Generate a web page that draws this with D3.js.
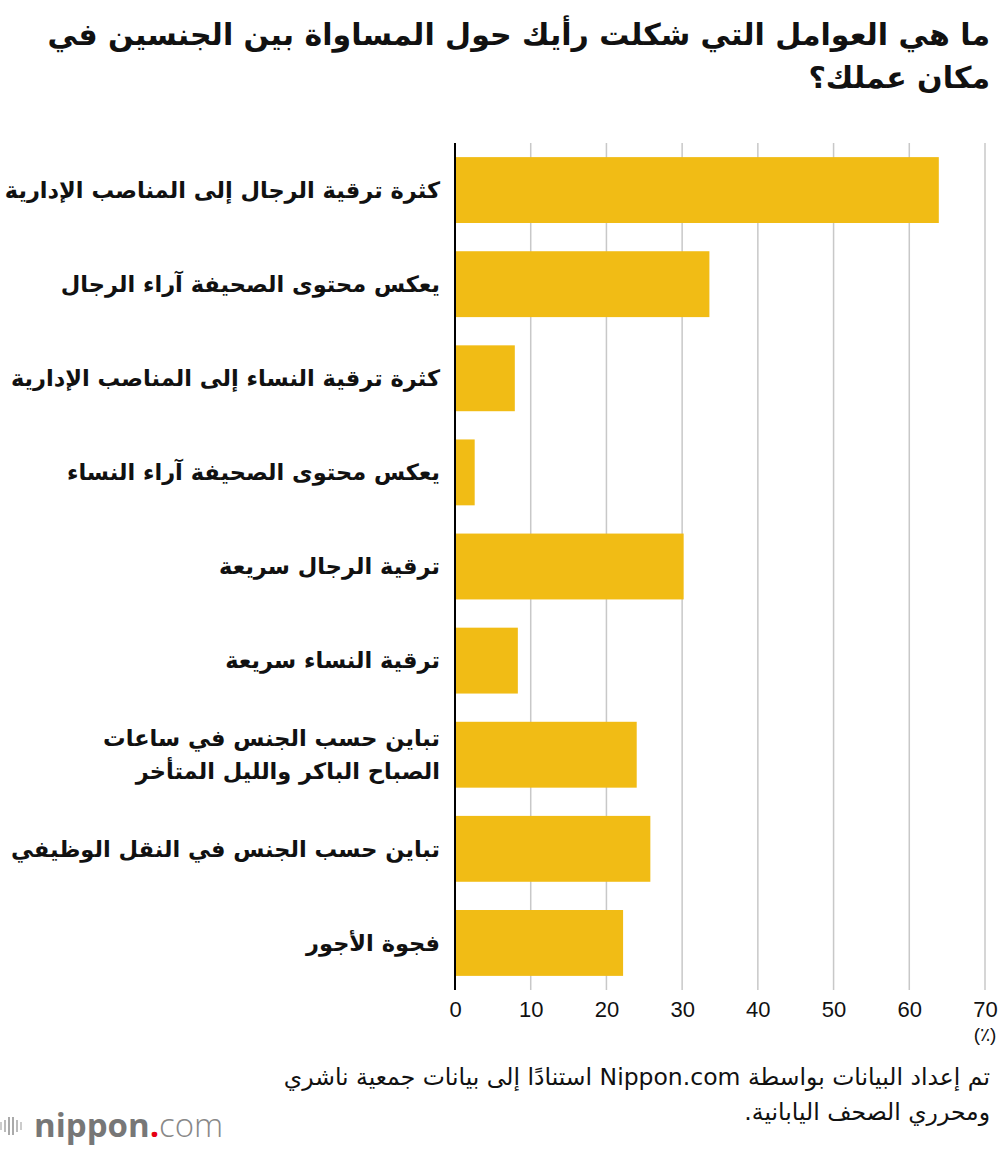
<!DOCTYPE html>
<html><head><meta charset="utf-8">
<script src="https://cdn.jsdelivr.net/npm/d3@7"></script>
<style>body{margin:0;background:#fff}svg{display:block}</style>
</head><body>
<script>
const categories = [
  ["كثرة ترقية الرجال إلى المناصب الإدارية"],
  ["يعكس محتوى الصحيفة آراء الرجال"],
  ["كثرة ترقية النساء إلى المناصب الإدارية"],
  ["يعكس محتوى الصحيفة آراء النساء"],
  ["ترقية الرجال سريعة"],
  ["ترقية النساء سريعة"],
  ["تباين حسب الجنس في ساعات", "الصباح الباكر والليل المتأخر"],
  ["تباين حسب الجنس في النقل الوظيفي"],
  ["فجوة الأجور"]
];
const values = [63.9, 33.6, 7.9, 2.6, 30.2, 8.3, 24.0, 25.8, 22.2];
const ticks = [0, 10, 20, 30, 40, 50, 60, 70];
const titleLines = ["ما هي العوامل التي شكلت رأيك حول المساواة بين الجنسين في", "مكان عملك؟"];
const sourceLines = ["تم إعداد البيانات بواسطة Nippon.com استنادًا إلى بيانات جمعية ناشري", "ومحرري الصحف اليابانية."];
const unitLabel = "(٪)";

const W = 1000, H = 1152;
const svg = d3.select("body").append("svg").attr("width", W).attr("height", H);
const arFont = "'DejaVu Sans', sans-serif";

const x = d3.scaleLinear().domain([0, 70]).range([455, 985]);
const idx = d3.range(categories.length);
const y = d3.scaleBand().domain(idx).range([143, 990]).paddingInner(0.3).paddingOuter(0.15);

// title
svg.append("g").selectAll("text").data(titleLines).join("text")
  .attr("x", 990).attr("y", (d, i) => 45 + i * 43)
  .attr("direction", "rtl").attr("text-anchor", "start")
  .attr("font-family", arFont).attr("font-weight", "bold").attr("font-size", 30)
  .attr("fill", "#111").text(d => d);

// gridlines
svg.append("g").selectAll("line").data(ticks.slice(1)).join("line")
  .attr("x1", d => x(d)).attr("x2", d => x(d))
  .attr("y1", 143).attr("y2", 990)
  .attr("stroke", "#c8c8c8").attr("stroke-width", 1.5);

// bars
svg.append("g").selectAll("rect").data(idx).join("rect")
  .attr("x", x(0)).attr("y", i => y(i))
  .attr("width", i => x(values[i]) - x(0)).attr("height", y.bandwidth())
  .attr("fill", "#F1BC15");

// zero axis line
svg.append("line").attr("x1", x(0)).attr("x2", x(0)).attr("y1", 143).attr("y2", 990)
  .attr("stroke", "#000").attr("stroke-width", 2);

// tick labels
const axis = d3.axisBottom(x).tickValues(ticks).tickSize(0).tickPadding(0);
const ag = svg.append("g").attr("transform", "translate(0,996)").call(axis);
ag.select(".domain").remove();
ag.selectAll("text").attr("font-family", "'Liberation Sans', Arial, sans-serif")
  .attr("font-size", 22).attr("fill", "#111").attr("dy", "0.95em");

svg.append("text").attr("x", x(70)).attr("y", 1041).attr("text-anchor", "middle")
  .attr("font-family", "'Liberation Sans', Arial, sans-serif").attr("font-size", 19)
  .attr("fill", "#111").text(unitLabel);

// category labels
const lg = svg.append("g");
idx.forEach(i => {
  const lines = categories[i];
  const cy = y(i) + y.bandwidth() / 2;
  const lh = 33;
  lines.forEach((t, j) => {
    lg.append("text")
      .attr("x", 440).attr("y", cy + (j - (lines.length - 1) / 2) * lh)
      .attr("dy", "0.35em")
      .attr("direction", "rtl").attr("text-anchor", "start")
      .attr("font-family", arFont).attr("font-weight", "bold").attr("font-size", 22.5)
      .attr("fill", "#111").text(t);
  });
});

// source
svg.append("g").selectAll("text").data(sourceLines).join("text")
  .attr("x", 990).attr("y", (d, i) => 1085 + i * 35)
  .attr("direction", "rtl").attr("text-anchor", "start")
  .attr("font-family", arFont).attr("font-size", 23.5)
  .attr("fill", "#111").text(d => d);

// logo
const logo = svg.append("g").attr("transform", "translate(0,1137)");
[0, 4, 8, 12, 16, 20].forEach((dx, k) => {
  const h = [8, 12, 18, 18, 12, 8][k];
  logo.append("rect").attr("x", dx).attr("y", -11 - h / 2).attr("width", 2).attr("height", h)
    .attr("fill", ["#ccc", "#bbb", "#aaa", "#aaa", "#bbb", "#ccc"][k]);
});
const lt = logo.append("text").attr("x", 34).attr("y", 0)
  .attr("font-family", "'Open Sans', sans-serif").attr("font-size", 33).attr("fill", "#777");
lt.append("tspan").attr("font-weight", "bold").text("nippon");
lt.append("tspan").attr("font-weight", "bold").attr("fill", "#e60012").text(".");
lt.append("tspan").attr("font-weight", "300").attr("fill", "#888").text("com");
</script>
</body></html>
